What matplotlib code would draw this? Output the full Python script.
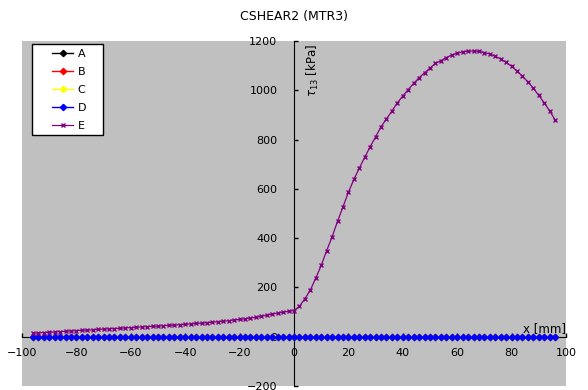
import numpy as np
import matplotlib.pyplot as plt
from matplotlib.patches import Rectangle

x_mm = list(range(-96, 98, 2))

# tau_13 for series E (kPa)
tau_E = [14, 15, 17, 18, 19, 21, 22, 23, 25, 26, 27, 28, 30, 31, 32, 33, 34, 36, 37, 38,
         40, 41, 42, 43, 45, 46, 47, 49, 50, 52, 54, 55, 57, 59, 61, 63, 65, 68, 70, 73,
         76, 79, 83, 88, 92, 96, 100, 103,
         106, 124, 154, 189, 238, 289, 349, 405, 468, 527, 586, 638, 684, 728, 771, 811,
         852, 884, 916, 949, 977, 1003, 1028, 1051, 1071, 1090, 1109, 1120, 1133, 1143,
         1150, 1156, 1159, 1159, 1158, 1153, 1147, 1138, 1127, 1113, 1097, 1078, 1057,
         1034, 1008, 979, 949, 916, 880]
tau_zero = [0] * len(x_mm)

series = ["A", "B", "C", "D", "E"]
colors = ["black", "red", "yellow", "blue", "#800080"]
markers = ["D", "D", "D", "D", "x"]

fig = plt.figure(figsize=(5.88, 3.9), dpi=100)
ax = fig.add_axes([22 / 588, 1 - 386 / 390, 544 / 588, 345 / 390])
ax.set_facecolor("#C0C0C0")

for name, col, mk in zip(series, colors, markers):
    y = tau_E if name == "E" else tau_zero
    if mk == "x":
        ax.plot(x_mm, y, color=col, marker=mk, markersize=3.5, markeredgewidth=1,
                linewidth=0.9, label=name, zorder=4)
    else:
        ax.plot(x_mm, y, color=col, marker=mk, markersize=3.2, linewidth=1,
                label=name, zorder=3)

ax.set_xlim(-100, 100)
ax.set_ylim(-200, 1200)
ax.set_xticks(np.arange(-100, 101, 20))
ax.set_yticks(np.arange(-200, 1201, 200))

ax.spines["left"].set_position(("data", 0))
ax.spines["bottom"].set_position(("data", 0))
ax.spines["top"].set_visible(False)
ax.spines["right"].set_visible(False)
ax.tick_params(axis="both", direction="in", length=3, labelsize=8, width=1)
ax.tick_params(axis="x", pad=8)
ax.tick_params(axis="y", pad=12)
for lab in ax.get_xticklabels():
    lab.set_clip_on(False)

ax.text(100, 8, "x [mm]", ha="right", va="bottom", fontsize=8.5)
ax.annotate(r"$\tau_{13}$ [kPa]", xy=(0, 1200), xytext=(14, -2), textcoords="offset points",
            rotation=90, ha="center", va="top", fontsize=8.5)

# legend box drawn separately so its size matches the original
box = Rectangle((32 / 588, 1 - 135 / 390), 71 / 588, 91 / 390, transform=fig.transFigure,
                facecolor="white", edgecolor="black", linewidth=1, zorder=5, clip_on=False)
ax.add_patch(box)
leg = ax.legend(loc="upper left", bbox_to_anchor=(52 / 588, 1 - 49 / 390),
                bbox_transform=fig.transFigure, borderaxespad=0, borderpad=0,
                frameon=False, fontsize=8, handlelength=1.9, labelspacing=0.72,
                handletextpad=0.4)
leg.set_zorder(6)

fig.suptitle("CSHEAR2 (MTR3)", y=0.975, fontsize=9)

fig.savefig("out.png", dpi=100)
